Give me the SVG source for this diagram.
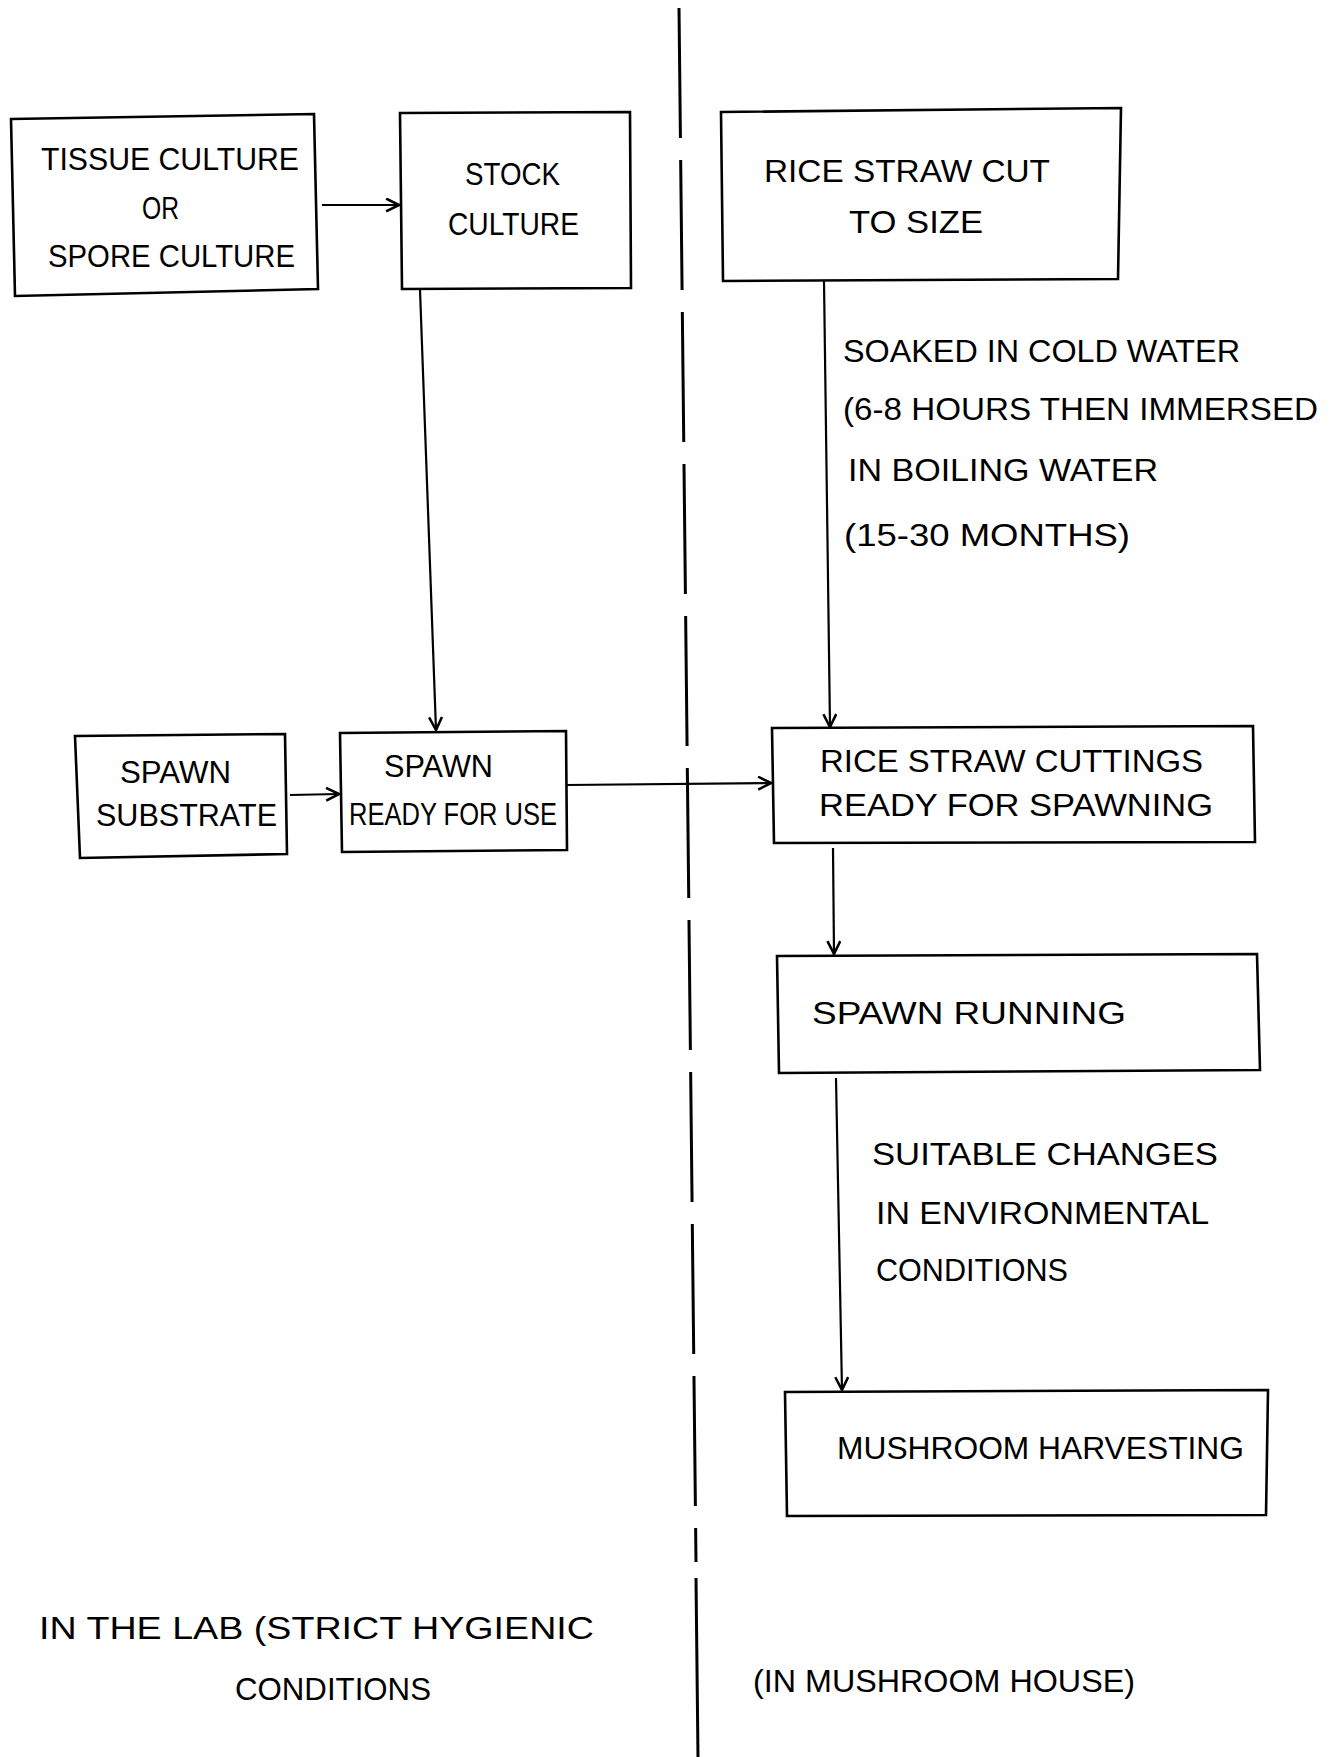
<svg xmlns="http://www.w3.org/2000/svg" width="1337" height="1757" viewBox="0 0 1337 1757">
<style>
.box{fill:none;stroke:#000;stroke-width:2.6;stroke-linejoin:miter}
.t{font-family:"Liberation Sans",Arial,sans-serif;font-size:31px;fill:#000}
.c{fill:none;stroke:#000;stroke-width:2.2}
.div{fill:none;stroke:#000;stroke-width:3}
</style>
<defs>
<marker id="ah" viewBox="0 0 14 14" refX="13" refY="7" markerWidth="15" markerHeight="15" markerUnits="userSpaceOnUse" orient="auto">
<path d="M1,1 L13,7 L1,13" fill="none" stroke="#000" stroke-width="2.4"/>
</marker>
</defs>
<rect width="1337" height="1757" fill="#fff"/>

<g id="divider">
<path class="div" d="M679,8 L696,1562" stroke-dasharray="130,22"/>
<path class="div" d="M696,1578 L698,1757"/>
</g>

<g id="tissue-culture">
<path class="box" d="M11,119 L314,114 L318,289 L15,296 Z"/>
<text class="t" x="41" y="170" textLength="258" lengthAdjust="spacingAndGlyphs">TISSUE CULTURE</text>
<text class="t" x="142" y="219" textLength="37" lengthAdjust="spacingAndGlyphs">OR</text>
<text class="t" x="48" y="267" textLength="247" lengthAdjust="spacingAndGlyphs">SPORE CULTURE</text>
</g>

<g id="stock-culture">
<path class="box" d="M400,113 L630,112 L631,288 L402,289 Z"/>
<text class="t" x="465" y="185" textLength="95" lengthAdjust="spacingAndGlyphs">STOCK</text>
<text class="t" x="448" y="235" textLength="131" lengthAdjust="spacingAndGlyphs">CULTURE</text>
</g>

<g id="rice-straw-cut">
<path class="box" d="M721,112 L1121,108 L1118,279 L723,281 Z"/>
<text class="t" x="764" y="182" textLength="286" lengthAdjust="spacingAndGlyphs">RICE STRAW CUT</text>
<text class="t" x="849" y="233" textLength="134" lengthAdjust="spacingAndGlyphs">TO SIZE</text>
</g>

<g id="soak-label">
<text class="t" x="843" y="362" textLength="397" lengthAdjust="spacingAndGlyphs">SOAKED IN COLD WATER</text>
<text class="t" x="843" y="420" textLength="475" lengthAdjust="spacingAndGlyphs">(6-8 HOURS THEN IMMERSED</text>
<text class="t" x="848" y="481" textLength="310" lengthAdjust="spacingAndGlyphs">IN BOILING WATER</text>
<text class="t" x="844" y="546" textLength="286" lengthAdjust="spacingAndGlyphs">(15-30 MONTHS)</text>
</g>

<g id="spawn-substrate">
<path class="box" d="M75,736 L285,734 L287,854 L80,858 Z"/>
<text class="t" x="120" y="783" textLength="111" lengthAdjust="spacingAndGlyphs">SPAWN</text>
<text class="t" x="96" y="826" textLength="181" lengthAdjust="spacingAndGlyphs">SUBSTRATE</text>
</g>

<g id="spawn-ready">
<path class="box" d="M340,733 L566,731 L567,850 L342,852 Z"/>
<text class="t" x="384" y="777" textLength="109" lengthAdjust="spacingAndGlyphs">SPAWN</text>
<text class="t" x="349" y="825" textLength="208" lengthAdjust="spacingAndGlyphs">READY FOR USE</text>
</g>

<g id="rice-straw-cuttings">
<path class="box" d="M772,728 L1253,726 L1255,842 L774,843 Z"/>
<text class="t" x="820" y="772" textLength="383" lengthAdjust="spacingAndGlyphs">RICE  STRAW CUTTINGS</text>
<text class="t" x="819" y="816" textLength="394" lengthAdjust="spacingAndGlyphs">READY  FOR  SPAWNING</text>
</g>

<g id="spawn-running">
<path class="box" d="M777,956 L1257,954 L1260,1070 L779,1073 Z"/>
<text class="t" x="812" y="1024" textLength="314" lengthAdjust="spacingAndGlyphs">SPAWN  RUNNING</text>
</g>

<g id="env-label">
<text class="t" x="872" y="1165" textLength="346" lengthAdjust="spacingAndGlyphs">SUITABLE  CHANGES</text>
<text class="t" x="876" y="1224" textLength="333" lengthAdjust="spacingAndGlyphs">IN ENVIRONMENTAL</text>
<text class="t" x="876" y="1281" textLength="192" lengthAdjust="spacingAndGlyphs">CONDITIONS</text>
</g>

<g id="mushroom-harvesting">
<path class="box" d="M785,1392 L1268,1390 L1266,1515 L787,1516 Z"/>
<text class="t" x="837" y="1459" textLength="407" lengthAdjust="spacingAndGlyphs">MUSHROOM  HARVESTING</text>
</g>

<g id="lab-label">
<text class="t" x="39" y="1639" textLength="555" lengthAdjust="spacingAndGlyphs">IN THE LAB (STRICT HYGIENIC</text>
<text class="t" x="235" y="1700" textLength="196" lengthAdjust="spacingAndGlyphs">CONDITIONS</text>
</g>

<g id="house-label">
<text class="t" x="753" y="1692" textLength="382" lengthAdjust="spacingAndGlyphs">(IN MUSHROOM HOUSE)</text>
</g>

<g id="connectors">
<path class="c" d="M322,205 L399,205" marker-end="url(#ah)"/>
<path class="c" d="M420,290 L436,730" marker-end="url(#ah)"/>
<path class="c" d="M290,795 L339,794" marker-end="url(#ah)"/>
<path class="c" d="M567,785 L771,783" marker-end="url(#ah)"/>
<path class="c" d="M824,281 L830,727" marker-end="url(#ah)"/>
<path class="c" d="M833,848 L834,954" marker-end="url(#ah)"/>
<path class="c" d="M836,1078 L842,1390" marker-end="url(#ah)"/>
</g>
</svg>
